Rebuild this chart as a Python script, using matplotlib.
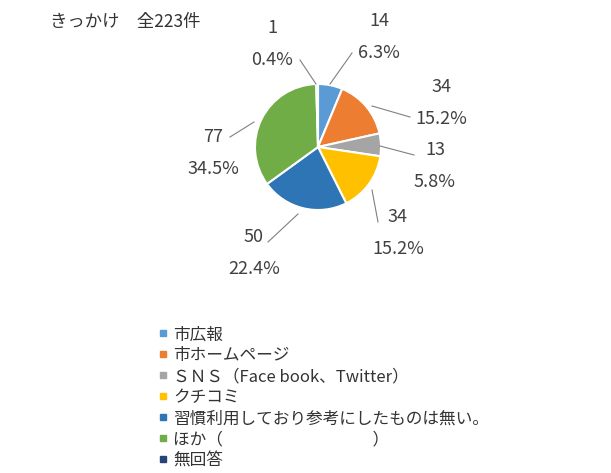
import matplotlib
matplotlib.use("Agg")
import matplotlib.pyplot as plt
from matplotlib.lines import Line2D

plt.rcParams['font.family'] = ['Noto Sans CJK JP', 'DejaVu Sans']

categories = ['市広報', '市ホームページ', 'ＳＮＳ（Face book、Twitter）', 'クチコミ',
              '習慣利用しており参考にしたものは無い。', 'ほか（　　　　　　　　　）', '無回答']
counts = [14, 34, 13, 34, 50, 77, 1]
percents = ['6.3%', '15.2%', '5.8%', '15.2%', '22.4%', '34.5%', '0.4%']
colors = ['#5B9BD5', '#ED7D31', '#A5A5A5', '#FFC000', '#2E75B6', '#70AD47', '#264478']

# label text centers and leader line anchor points (pixel coords, y from top)
label_pos = [(379, 37), (441, 103), (435, 166), (398, 233), (254, 253), (213, 153), (272, 44)]
leader = [((352, 53), (330, 84)), ((410, 117), (372, 106)), ((414, 155), (380, 146)),
          ((378, 222), (372, 190)), ((268, 242), (298, 214)), ((230, 137), (254, 122)),
          ((300, 60), (316, 84))]

fig = plt.figure(figsize=(6.11, 4.73), dpi=100)
ax = fig.add_axes([0, 0, 1, 1])

H = 473
ax.pie(counts, colors=colors, startangle=90, counterclock=False,
       center=(318, H - 147), radius=63,
       wedgeprops=dict(edgecolor='white', linewidth=1.5))
ax.set_xlim(0, 611)
ax.set_ylim(0, 473)
ax.set_aspect('equal')
ax.axis('off')

for (lx, ly), c, p, (a, b) in zip(label_pos, counts, percents, leader):
    ax.text(lx, H - ly, f'{c}\n{p}', ha='center', va='center', fontsize=13,
            color='#404040', linespacing=1.95)
    ax.plot([a[0], b[0]], [H - a[1], H - b[1]], color='#808080', lw=0.8)

ax.text(50, H - 22, 'きっかけ　全223件', ha='left', va='center', fontsize=12.5, color='#333333')

handles = [Line2D([], [], marker='s', linestyle='none', markersize=5, color=col) for col in colors]
leg = ax.legend(handles, categories, loc='upper left', bbox_to_anchor=(150 / 611, 1 - 318 / 473),
                frameon=False, fontsize=12, labelspacing=0.24, handlelength=0.6,
                handletextpad=0.3, borderpad=0)
for t in leg.get_texts():
    t.set_color('#333333')

fig.savefig('out.png', dpi=100)
